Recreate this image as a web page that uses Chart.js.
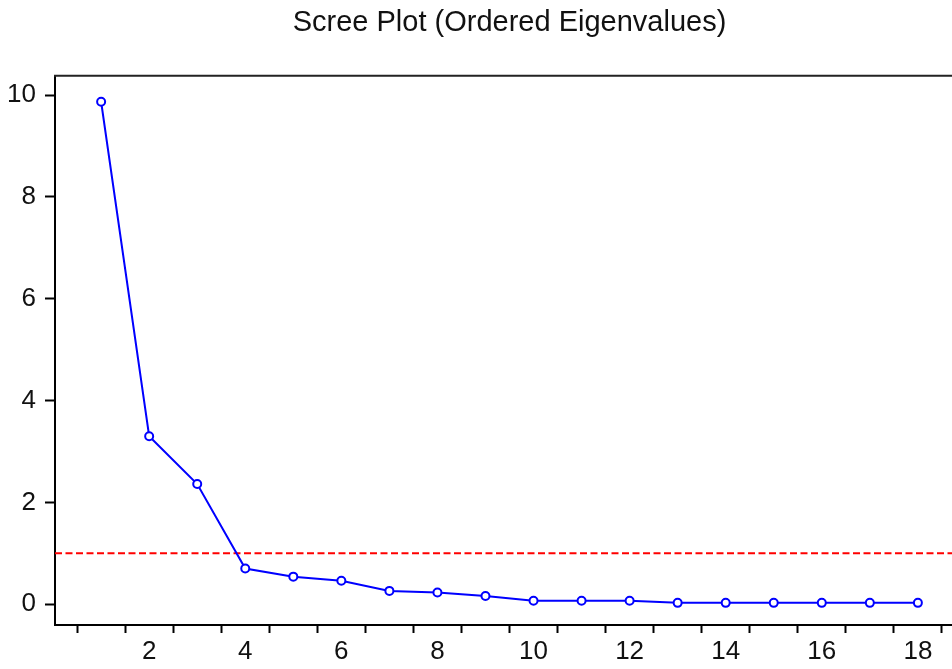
<!DOCTYPE html>
<html>
<head>
<meta charset="utf-8">
<title>Scree Plot</title>
<script src="https://cdn.jsdelivr.net/npm/chart.js@4.4.1/dist/chart.umd.min.js"></script>
<style>
    html, body { margin: 0; padding: 0; background: #fff; overflow: hidden; }
    #wrap { width: 970px; height: 669px; }
</style>
</head>
<body>
<div id="wrap"><canvas id="screeChart" width="970" height="669"></canvas></div>
<script>
// Component numbers and their eigenvalues
const components = [1, 2, 3, 4, 5, 6, 7, 8, 9, 10, 11, 12, 13, 14, 15, 16, 17, 18];
const eigenvalues = [9.87, 3.30, 2.36, 0.70, 0.54, 0.46, 0.26, 0.23, 0.16, 0.065, 0.065, 0.065, 0.025, 0.025, 0.025, 0.025, 0.025, 0.025];

// Kaiser cutoff line
const cutoff = 1;

// Axis ticks
const xTickLabels = [2, 4, 6, 8, 10, 12, 14, 16, 18];
const xTickMarks = [0.5, 1.5, 2.5, 3.5, 4.5, 5.5, 6.5, 7.5, 8.5, 9.5, 10.5, 11.5, 12.5, 13.5, 14.5, 15.5, 16.5, 17.5, 18.5];
const yTickValues = [0, 2, 4, 6, 8, 10];

const xMin = 0.04, xMax = 18.96;
const yMin = -0.41, yMax = 10.38;

const fontFamily = "'Liberation Sans', Arial, sans-serif";

// top + right frame lines (left/bottom come from the axis borders)
const framePlugin = {
    id: 'frame',
    afterDraw(chart) {
        const { ctx, chartArea } = chart;
        ctx.save();
        ctx.strokeStyle = '#222';
        ctx.lineWidth = 2;
        ctx.beginPath();
        ctx.moveTo(chartArea.left - 1, chartArea.top);
        ctx.lineTo(chartArea.right, chartArea.top);
        ctx.lineTo(chartArea.right, chartArea.bottom);
        ctx.stroke();
        ctx.restore();
    }
};

const xTicks = [...xTickMarks, ...xTickLabels].sort((a, b) => a - b);

new Chart(document.getElementById('screeChart'), {
    type: 'line',
    data: {
        datasets: [
            {
                label: 'Eigenvalues',
                data: components.map((c, i) => ({ x: c, y: eigenvalues[i] })),
                borderColor: '#0000ff',
                borderWidth: 2,
                backgroundColor: '#ffffff',
                pointBackgroundColor: '#ffffff',
                pointBorderColor: '#0000ff',
                pointBorderWidth: 2,
                pointRadius: 4,
                tension: 0
            },
            {
                label: 'Cutoff',
                data: [{ x: xMin, y: cutoff }, { x: xMax, y: cutoff }],
                borderColor: '#ff0000',
                borderWidth: 2,
                borderDash: [7, 3.5],
                pointRadius: 0,
                tension: 0
            }
        ]
    },
    options: {
        responsive: false,
        animation: false,
        layout: { padding: { left: 0, right: 6, top: 0, bottom: 0 } },
        plugins: {
            legend: { display: false },
            tooltip: { enabled: false },
            title: {
                display: true,
                text: 'Scree Plot (Ordered Eigenvalues)',
                fullSize: false,
                color: '#111',
                font: { family: fontFamily, size: 29, weight: 'normal' },
                padding: { top: 6, bottom: 35 }
            }
        },
        scales: {
            x: {
                type: 'linear',
                min: xMin,
                max: xMax,
                afterBuildTicks(axis) {
                    axis.ticks = xTicks.map(v => ({ value: v }));
                },
                afterFit(axis) { axis.height = 44; },
                ticks: {
                    autoSkip: false,
                    maxRotation: 0,
                    padding: 3,
                    color: '#111',
                    font: { family: fontFamily, size: 26 },
                    callback: (v) => xTickLabels.includes(v) ? String(v) : ''
                },
                grid: {
                    drawOnChartArea: false,
                    tickLength: 8,
                    tickWidth: 2,
                    tickColor: (ctx) => xTickMarks.includes(ctx.tick.value) ? '#000' : 'rgba(0,0,0,0)'
                },
                border: { color: '#000', width: 2 }
            },
            y: {
                min: yMin,
                max: yMax,
                afterBuildTicks(axis) {
                    axis.ticks = yTickValues.map(v => ({ value: v }));
                },
                afterFit(axis) { axis.width = 55; },
                ticks: {
                    padding: 9,
                    color: '#111',
                    font: { family: fontFamily, size: 26 }
                },
                grid: {
                    drawOnChartArea: false,
                    tickLength: 10,
                    tickWidth: 2,
                    tickColor: '#000'
                },
                border: { color: '#000', width: 2 }
            }
        }
    },
    plugins: [framePlugin]
});
</script>
</body>
</html>
